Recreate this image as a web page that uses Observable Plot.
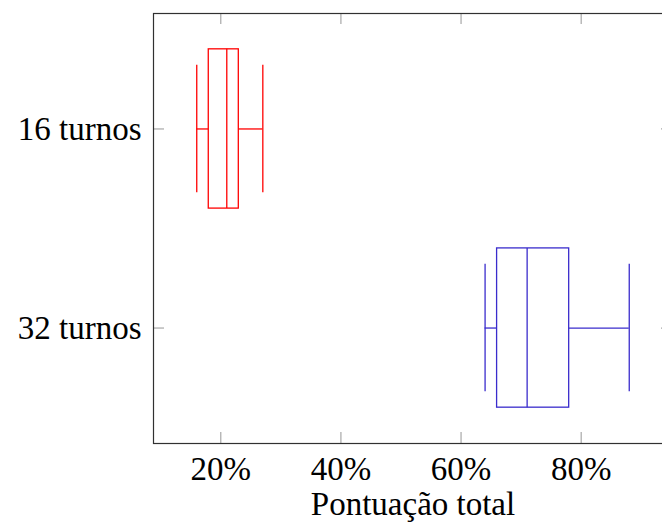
<!DOCTYPE html>
<html>
<head>
<meta charset="utf-8">
<script src="https://cdn.jsdelivr.net/npm/d3@7"></script>
<script src="https://cdn.jsdelivr.net/npm/@observablehq/plot@0.6"></script>
<style>
  html, body { margin: 0; padding: 0; background: white; overflow: hidden; }
  #chart svg { overflow: hidden; }
</style>
</head>
<body>
<div id="chart"></div>
<script>
// Data (percent values)
const categories = ["16 turnos", "32 turnos"];
const positions = [1, 2];
const whiskerLow = [16, 64];
const quartile1 = [18, 66];
const medians = [21, 71];
const quartile3 = [23, 78];
const whiskerHigh = [27, 88];
const colors = ["#ff0000", "#3a2ccc"];
const xTicks = [20, 40, 60, 80];
const xLabel = "Pontuação total";

const boxes = categories.map((c, i) => ({
  cat: c, pos: positions[i], lo: whiskerLow[i], q1: quartile1[i],
  med: medians[i], q3: quartile3[i], hi: whiskerHigh[i], color: colors[i]
}));

const W = 662, H = 523;
const mL = 153, mT = 13, mB = 80, mR = -10;
const frameH = H - mT - mB;
const frameW = W - mL - mR;
const tickLen = 11;
const boxHalf = 0.4, capHalf = 0.32;

const dataMin = d3.min(whiskerLow), dataMax = d3.max(whiskerHigh);
const pad = (dataMax - dataMin) * 0.1;

const font = "'Liberation Serif', 'DejaVu Serif', serif";
const fs = 33;

const chart = Plot.plot({
  width: W,
  height: H,
  marginLeft: mL,
  marginTop: mT,
  marginBottom: mB,
  marginRight: mR,
  style: { fontFamily: font, fontSize: fs + "px", color: "black", background: "white" },
  x: { domain: [dataMin - pad, dataMax + pad] },
  y: { domain: [0.42, 2.58], reverse: true },
  marks: [
    // inward ticks
    Plot.ruleX(xTicks, { x: d => d, insetTop: frameH - tickLen, stroke: "#a8a8a8", strokeWidth: 1.2 }),
    Plot.ruleX(xTicks, { x: d => d, insetBottom: frameH - tickLen, stroke: "#a8a8a8", strokeWidth: 1.2 }),
    Plot.ruleY(positions, { y: d => d, insetRight: frameW - tickLen, stroke: "#a8a8a8", strokeWidth: 1.2 }),
    Plot.ruleY(positions, { y: d => d, insetLeft: frameW - tickLen, stroke: "#a8a8a8", strokeWidth: 1.2 }),
    // boxes
    Plot.rect(boxes, { x1: "q1", x2: "q3", y1: d => d.pos - boxHalf, y2: d => d.pos + boxHalf, fill: "none", stroke: "color", strokeWidth: 1.3 }),
    Plot.ruleX(boxes, { x: "med", y1: d => d.pos - boxHalf, y2: d => d.pos + boxHalf, stroke: "color", strokeWidth: 1.3 }),
    Plot.ruleY(boxes, { y: "pos", x1: "lo", x2: "q1", stroke: "color", strokeWidth: 1.3 }),
    Plot.ruleY(boxes, { y: "pos", x1: "q3", x2: "hi", stroke: "color", strokeWidth: 1.3 }),
    Plot.ruleX(boxes, { x: "lo", y1: d => d.pos - capHalf, y2: d => d.pos + capHalf, stroke: "color", strokeWidth: 1.3 }),
    Plot.ruleX(boxes, { x: "hi", y1: d => d.pos - capHalf, y2: d => d.pos + capHalf, stroke: "color", strokeWidth: 1.3 }),
    // axes
    Plot.axisX(xTicks, {
      tickSize: 0, tickPadding: 13, tickFormat: d => d + "%",
      fontSize: fs, label: xLabel, labelAnchor: "center", labelArrow: "none", labelOffset: 71
    }),
    Plot.axisY(positions, {
      tickSize: 0, tickPadding: 12, tickFormat: d => categories[positions.indexOf(d)],
      fontSize: fs, label: null
    }),
    Plot.frame({ stroke: "#303030", strokeWidth: 1.2 })
  ]
});
document.getElementById("chart").appendChild(chart);
</script>
</body>
</html>
